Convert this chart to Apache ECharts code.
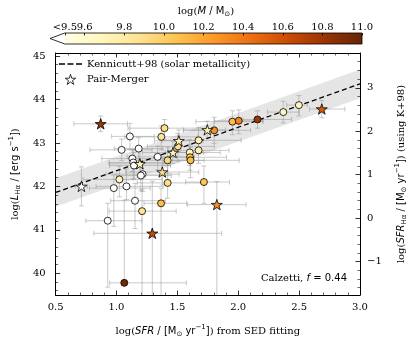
<!DOCTYPE html>
<html><head><meta charset="utf-8">
<script src="https://cdn.jsdelivr.net/npm/echarts@6/dist/echarts.min.js"></script>
<style>html,body{margin:0;padding:0;background:#fff}#c{width:416px;height:343px}</style>
</head><body><div id="c"></div>
<script>
// ---------------- data ----------------
const xTicks = [0.5, 1.0, 1.5, 2.0, 2.5, 3.0];
const massTicks = [9.5, 9.6, 9.8, 10.0, 10.2, 10.4, 10.6, 10.8, 11.0];
const massLabelsA = [9.5, 9.8, 10.0, 10.2, 10.4, 10.6, 10.8, 11.0];
const massLabelsB = [9.6];
const massRange = [9.5, 11.0];
const kennicuttOffset = 41.27;     // log L(Ha) - log SFR (K+98)
const lineOffset = 41.36;          // dashed relation (Calzetti, f=0.44)
const bandHalf = 0.33;
const lRange = [39.5, 45.07];

const circleX = [1.110,1.042,1.182,1.130,1.138,1.144,1.338,1.420,1.394,1.368,1.504,1.602,1.604,1.608,1.674,1.674,1.802,1.952,2.004,2.158,2.370,2.498,1.214,1.200,1.024,0.978,1.082,1.420,1.718,1.152,1.366,1.210,0.928,1.064];
const circleL = [43.15,42.84,42.87,42.64,42.55,42.48,42.68,42.60,43.34,43.14,42.92,42.78,42.67,42.60,43.06,42.83,43.29,43.49,43.51,43.54,43.71,43.87,42.28,42.25,42.16,41.96,42.00,42.08,42.10,41.67,41.61,41.43,41.21,39.78];
const circleMass = [9.3,9.3,9.3,9.3,9.3,9.3,9.3,9.95,9.9,9.85,9.9,9.65,10.05,10.1,9.75,9.75,10.3,10.1,10.35,10.8,9.7,9.7,9.3,9.3,9.7,9.3,9.3,9.9,10.05,9.3,10.1,9.85,9.3,10.95];
const circleXErrLo = [0.15,0.26,0.2,0.25,0.2,0.2,0.25,0.3,0.3,0.3,0.25,0.2,0.25,0.2,0.3,0.25,0.25,0.3,0.2,0.12,0.13,0.1,0.3,0.2,0.3,0.2,0.25,0.25,0.15,0.2,0.14,0.27,0.18,0.12];
const circleXErrHi = [0.2,0.25,0.2,0.3,0.25,0.3,0.3,0.3,0.35,0.3,0.3,0.25,0.3,0.4,0.35,0.25,0.3,0.25,0.2,0.28,0.13,0.07,0.3,0.25,0.35,0.3,0.3,0.3,0.21,0.25,0.21,0.28,0.28,0.51];
const circleYErrLo = [0.3,0.25,0.35,0.3,0.4,0.3,0.3,0.3,0.25,0.3,0.35,0.3,0.3,0.4,0.3,0.3,0.3,0.3,0.3,0.2,0.25,0.25,0.4,0.35,0.4,0.88,0.3,0.35,0.49,0.64,2.5,2.5,1.53,0.05];
const circleYErrHi = [0.3,0.25,0.25,0.2,0.3,0.3,0.25,0.3,0.2,0.25,0.3,0.3,0.3,0.3,0.3,0.3,0.3,0.25,0.25,0.2,0.25,0.22,0.3,0.3,0.3,0.3,0.4,0.4,0.37,0.4,0.35,0.5,0.4,1.9];

const starX = [0.870,0.712,1.192,1.376,1.464,1.512,1.746,1.824,1.294,2.686];
const starL = [43.44,42.00,42.52,42.33,42.78,43.05,43.30,41.58,40.92,43.78];
const starMass = [10.8,9.3,9.7,9.9,9.75,9.7,9.75,10.3,10.65,10.55];
const starXErrLo = [0.22,0.05,0.25,0.3,0.25,0.2,0.2,0.24,0.48,0.1];
const starXErrHi = [0.22,0.05,0.25,0.3,0.25,0.2,0.15,0.24,0.57,0.19];
const starYErrLo = [0.18,0.45,0.3,0.3,0.25,0.25,0.2,2.5,2.5,0.2];
const starYErrHi = [0.18,0.45,0.3,0.3,0.25,0.25,0.2,0.53,1.2,0.2];

const YLORBR = ['#ffffe5','#fff7bc','#fee391','#fec44f','#fe9929','#ec7014','#cc4c02','#993404','#662506'];

// ---------------- build ----------------
const SERIF = 'DejaVu Serif', SANS = 'DejaVu Sans';
const rich = {
  s: {fontFamily: SERIF, fontSize: 10, lineHeight: 14, color: '#000'},
  i: {fontFamily: SANS, fontSize: 10, fontStyle: 'italic', lineHeight: 14, color: '#000'},
  m: {fontFamily: SANS, fontSize: 10, lineHeight: 14, color: '#000'},
  sub: {fontFamily: SANS, fontSize: 7, lineHeight: 8, verticalAlign: 'bottom', color: '#000'},
  sup: {fontFamily: SANS, fontSize: 7, lineHeight: 8, verticalAlign: 'top', color: '#000'}
};
const STAR = 'path://M0,-100 L22.45,-30.9 L95.1,-30.9 L36.3,11.8 L58.8,80.9 L0,38.2 L-58.8,80.9 L-36.3,11.8 L-95.1,-30.9 L-22.45,-30.9 Z';
const DASH = 'path://M0,0h6v1.4h-6z M8.5,0h6v1.4h-6z M17,0h6v1.4h-6z';

function massColor(m) {
  if (m < massRange[0]) return '#ffffff';
  const t = Math.min(1, (m - massRange[0]) / (massRange[1] - massRange[0]));
  return echarts.color.lerp(t, YLORBR);
}
const fmtMass = v => Math.abs(v - massRange[0]) < 1e-6 ? '<' + v.toFixed(1) : v.toFixed(1);

const circleData = circleX.map((x, i) => [x, circleL[i], circleMass[i]]);
const starData = starX.map((x, i) => [x, starL[i], starMass[i]]);
const errData = circleX.map((x, i) => [x, circleL[i], circleXErrLo[i], circleXErrHi[i], circleYErrLo[i], circleYErrHi[i]])
  .concat(starX.map((x, i) => [x, starL[i], starXErrLo[i], starXErrHi[i], starYErrLo[i], starYErrHi[i]]));

const cbarTip = massRange[0] - 0.05 * (massRange[1] - massRange[0]);
const stops = YLORBR.map((c, i) => ({offset: i / (YLORBR.length - 1), color: c}));

const axisCommon = {
  axisLine: {show: true, onZero: false, lineStyle: {color: '#000', width: 1}},
  axisTick: {show: true, inside: true, length: 4.5, lineStyle: {color: '#000', width: 0.8}},
  minorTick: {show: true, splitNumber: 5, length: 2.5, lineStyle: {color: '#000', width: 0.6}},
  splitLine: {show: false}
};
const labelStyle = {fontFamily: SERIF, fontSize: 10, color: '#000'};
const cbarGrid = {left: 50, top: 33, width: 312, height: 11};

const option = {
  animation: false,
  backgroundColor: '#fff',
  grid: [
    {left: 50, top: 53, width: 312, height: 243},
    cbarGrid,
    Object.assign({}, cbarGrid)
  ],
  xAxis: [
    Object.assign({}, axisCommon, {
      gridIndex: 0, type: 'value', min: xTicks[0], max: xTicks[xTicks.length - 1], interval: 0.5, position: 'bottom',
      axisLabel: Object.assign({margin: 7, formatter: v => v.toFixed(1)}, labelStyle),
      name: '{s|log(}{i|SFR}{m| / [M}{sub|⊙}{m| yr}{sup|−1}{m|]}{s|) from SED fitting}',
      nameLocation: 'middle', nameGap: 29, nameTextStyle: {rich: rich}
    }),
    Object.assign({}, axisCommon, {
      gridIndex: 0, type: 'value', min: xTicks[0], max: xTicks[xTicks.length - 1], interval: 0.5, position: 'top',
      axisLabel: {show: false}
    }),
    {
      gridIndex: 1, type: 'value', min: cbarTip, max: massRange[1], position: 'top', z: 10,
      axisLine: {show: false, onZero: false},
      axisTick: {show: true, inside: true, length: 2.5, customValues: massTicks, lineStyle: {color: '#000', width: 0.8}},
      axisLabel: Object.assign({margin: 1, customValues: massLabelsA, hideOverlap: false, formatter: fmtMass}, labelStyle),
      splitLine: {show: false},
      name: '{s|log(}{i|M}{m| / M}{sub|⊙}{s|)}',
      nameLocation: 'middle', nameGap: 15, nameTextStyle: {rich: rich}
    },
    {
      gridIndex: 2, type: 'value', min: cbarTip, max: massRange[1], position: 'top', z: 10,
      axisLine: {show: false, onZero: false},
      axisTick: {show: false},
      axisLabel: Object.assign({margin: 1, customValues: massLabelsB, hideOverlap: false, formatter: fmtMass}, labelStyle),
      splitLine: {show: false}
    }
  ],
  yAxis: [
    Object.assign({}, axisCommon, {
      gridIndex: 0, type: 'value', min: lRange[0], max: lRange[1], position: 'left', splitNumber: 5,
      axisLabel: Object.assign({margin: 10, showMinLabel: false, showMaxLabel: false}, labelStyle),
      name: '{s|log(}{i|L}{sub|Hα}{m| / [erg s}{sup|−1}{m|]}{s|)}',
      nameLocation: 'middle', nameGap: 28, nameRotate: 90, nameTextStyle: {rich: rich}
    }),
    Object.assign({}, axisCommon, {
      gridIndex: 0, type: 'value', min: lRange[0] - kennicuttOffset, max: lRange[1] - kennicuttOffset, position: 'right', splitNumber: 5,
      axisLabel: Object.assign({margin: 7, showMinLabel: false, showMaxLabel: false,
        formatter: v => (v < 0 ? '\u2212' + Math.abs(v) : String(v))}, labelStyle),
      name: '{s|log(}{i|SFR}{sub|Hα}{m| / [M}{sub|⊙}{m| yr}{sup|−1}{m|]}{s|) (using K+98)}',
      nameLocation: 'middle', nameGap: 34, nameRotate: 90, nameTextStyle: {rich: rich}
    }),
    {gridIndex: 1, type: 'value', min: 0, max: 1, show: false},
    {gridIndex: 2, type: 'value', min: 0, max: 1, show: false}
  ],
  legend: {
    left: 54, top: 54, orient: 'vertical', itemGap: 5, itemWidth: 23, itemHeight: 10,
    textStyle: {fontFamily: SERIF, fontSize: 10, color: '#000'},
    data: [
      {name: 'Kennicutt+98 (solar metallicity)', icon: DASH, itemStyle: {color: '#000', borderWidth: 0}},
      {name: 'Pair-Merger', icon: STAR, itemStyle: {color: '#ffffff', borderColor: '#000', borderWidth: 0.8}}
    ]
  },
  series: [
    { // 0 band
      type: 'custom', xAxisIndex: 0, yAxisIndex: 0, z: 1, silent: true, clip: true,
      data: [[xTicks[0], xTicks[xTicks.length - 1]]],
      renderItem: (p, api) => {
        const x0 = api.value(0), x1 = api.value(1);
        return {type: 'polygon', shape: {points: [
          api.coord([x0, x0 + lineOffset + bandHalf]), api.coord([x1, x1 + lineOffset + bandHalf]),
          api.coord([x1, x1 + lineOffset - bandHalf]), api.coord([x0, x0 + lineOffset - bandHalf])]},
          style: {fill: 'rgba(0,0,0,0.1)', stroke: 'none'}};
      }
    },
    { // 1 dashed line
      type: 'line', name: 'Kennicutt+98 (solar metallicity)', xAxisIndex: 0, yAxisIndex: 0, z: 3,
      symbol: 'none', silent: true,
      data: [[xTicks[0], xTicks[0] + lineOffset], [xTicks[xTicks.length - 1], xTicks[xTicks.length - 1] + lineOffset]],
      lineStyle: {color: '#000', width: 1.3, type: [5, 3]}, itemStyle: {color: '#000'}
    },
    { // 2 error bars
      type: 'custom', xAxisIndex: 0, yAxisIndex: 0, z: 2, silent: true, clip: true,
      data: errData,
      renderItem: (p, api) => {
        const x = api.value(0), y = api.value(1);
        const l = api.coord([x - api.value(2), y]), r = api.coord([x + api.value(3), y]);
        const b = api.coord([x, y - api.value(4)]), t = api.coord([x, y + api.value(5)]);
        const c = 2.5, st = {stroke: 'rgba(150,150,150,0.5)', lineWidth: 1};
        const L = (x1, y1, x2, y2) => ({type: 'line', shape: {x1, y1, x2, y2}, style: st});
        return {type: 'group', children: [
          L(l[0], l[1], r[0], r[1]), L(b[0], b[1], t[0], t[1]),
          L(l[0], l[1] - c, l[0], l[1] + c), L(r[0], r[1] - c, r[0], r[1] + c),
          L(b[0] - c, b[1], b[0] + c, b[1]), L(t[0] - c, t[1], t[0] + c, t[1])
        ]};
      }
    },
    { // 3 circles
      type: 'scatter', name: 'galaxies', xAxisIndex: 0, yAxisIndex: 0, z: 5,
      symbol: 'circle', symbolSize: 7, data: circleData,
      itemStyle: {color: p => massColor(p.value[2]), borderColor: '#000', borderWidth: 0.8, opacity: 1}
    },
    { // 4 stars
      type: 'scatter', name: 'Pair-Merger', xAxisIndex: 0, yAxisIndex: 0, z: 6,
      symbol: STAR, symbolSize: 11, symbolKeepAspect: true, data: starData,
      itemStyle: {color: p => massColor(p.value[2]), borderColor: '#000', borderWidth: 0.8, opacity: 1}
    },
    { // 5 colorbar
      type: 'custom', xAxisIndex: 2, yAxisIndex: 2, z: 2, silent: true, clip: false,
      data: [[massRange[0], massRange[1], cbarTip]],
      renderItem: (p, api) => {
        const v0 = api.value(0), v1 = api.value(1), tip = api.value(2);
        const tl = api.coord([v0, 1]), br = api.coord([v1, 0]), tp = api.coord([tip, 0.5]);
        return {type: 'group', children: [
          {type: 'rect', shape: {x: tl[0], y: tl[1], width: br[0] - tl[0], height: br[1] - tl[1]},
            style: {fill: new echarts.graphic.LinearGradient(0, 0, 1, 0, stops)}},
          {type: 'polygon', shape: {points: [tp, [tl[0], tl[1]], [br[0], tl[1]], [br[0], br[1]], [tl[0], br[1]]]},
            style: {fill: 'rgba(0,0,0,0)', stroke: '#000', lineWidth: 0.8}}
        ]};
      }
    }
  ],
  graphic: [
    {type: 'text', right: 69, top: 273, z: 20,
      style: {text: '{s|Calzetti, }{i|f}{m| = 0.44}', rich: rich}}
  ]
};
const chart = echarts.init(document.getElementById('c'));
chart.setOption(option);
</script>
</body></html>
